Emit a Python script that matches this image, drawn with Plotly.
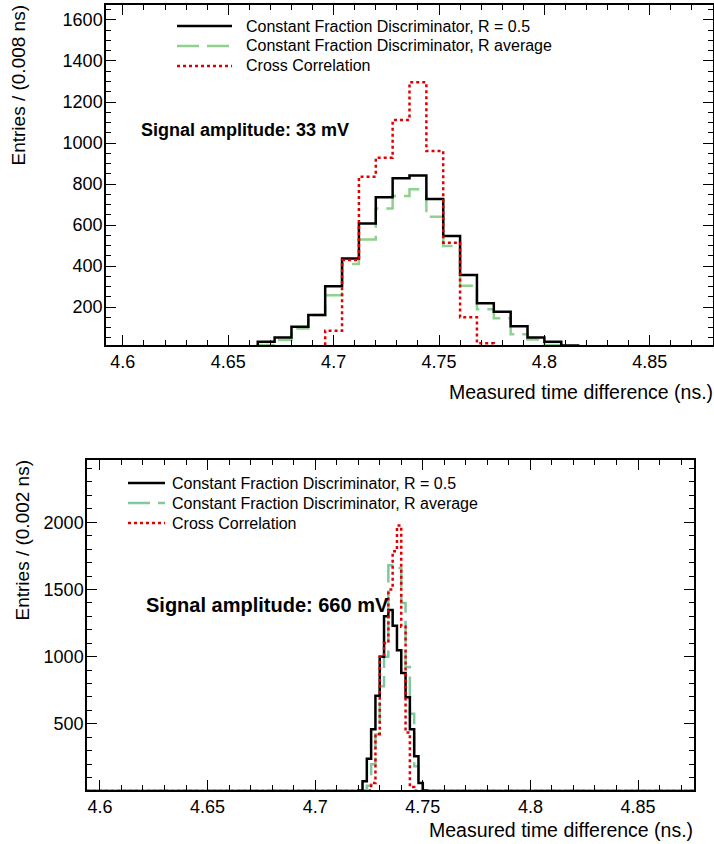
import plotly.graph_objects as go

W, H = 714, 844

# ---------------- top panel data (33 mV), bins of 0.008 ns ----------------
top_start = 4.592
top_width = 0.008
top_nbins = 36
top_first_bin = 7  # index of first listed bin
top_cfd_half = [2, 6, 31, 52, 104, 161, 302, 437, 608, 735, 828, 841, 727, 546,
                356, 218, 177, 107, 52, 31, 12, 5, 2]
top_cfd_avg = [0, 3, 15, 39, 96, 161, 258, 410, 530, 681, 741, 774, 640, 498,
               304, 189, 145, 67, 42, 15, 5, 2, 0]
top_xcorr = [0, 0, 0, 0, 2, 3, 85, 429, 836, 928, 1112, 1296, 961, 514,
             150, 23, 3, 1, 0, 0, 0, 0, 0]

# ---------------- bottom panel data (660 mV), bins of 0.002 ns ----------------
bot_start = 4.594
bot_width = 0.002
bot_nbins = 141
bot_first_bin = 63  # bin starting at 4.720
bot_cfd_half = [5, 73, 240, 460, 710, 1000, 1300, 1348, 1230, 1048, 878, 698,
                460, 260, 60, 5]
bot_cfd_avg = [0, 5, 40, 200, 420, 780, 1000, 1680, 1680, 1660, 1400, 923,
               575, 185, 50, 5]
bot_xcorr = [0, 0, 5, 60, 425, 1000, 1100, 1500, 1785, 1975, 1223, 435,
             30, 3, 0, 0]

names = ["Constant Fraction Discriminator, R = 0.5",
         "Constant Fraction Discriminator, R average",
         "Cross Correlation"]


def step_xy(start, width, nbins, first, vals):
    full = [0] * nbins
    full[first:first + len(vals)] = vals
    edges = [start + i * width for i in range(nbins + 1)]
    return edges, full + [full[-1]]


BLACK = "#000000"
GREEN_TOP = "#8fd18f"
GREEN_BOT = "#80c8a0"
RED = "#e00000"

fig = go.Figure()

panels = [
    ("x", "y", top_start, top_width, top_nbins, top_first_bin,
     [top_cfd_half, top_cfd_avg, top_xcorr], GREEN_TOP),
    ("x2", "y2", bot_start, bot_width, bot_nbins, bot_first_bin,
     [bot_cfd_half, bot_cfd_avg, bot_xcorr], GREEN_BOT),
]


def style(i, green):
    return [
        dict(color=BLACK, width=2.5, dash="solid"),
        dict(color=green, width=2.5, dash="22px,8px"),
        dict(color=RED, width=2.5, dash="3px,3px"),
    ][i]


draw_order = [1, 0, 2]
for xa, ya, st, wd, nb, fb, series, green in panels:
    for i in draw_order:
        xs, ys = step_xy(st, wd, nb, fb, series[i])
        fig.add_trace(go.Scatter(
            x=xs, y=ys, mode="lines", line_shape="hv", line=style(i, green),
            name=names[i], xaxis=xa, yaxis=ya, showlegend=False,
            hoverinfo="skip"))

FONT = "Liberation Sans, Arial, Helvetica, sans-serif"


def px_x(p):
    return p / W


def px_y(p):
    return 1 - p / H


axis_common = dict(
    showgrid=False, zeroline=False, showline=True, linecolor="black",
    linewidth=1.5, mirror="ticks", ticks="inside", ticklen=10,
    tickwidth=1.2, tickcolor="black",
    tickfont=dict(family=FONT, size=18, color="black"),
)

fig.update_layout(
    width=W, height=H, margin=dict(l=0, r=0, t=0, b=0),
    paper_bgcolor="white", plot_bgcolor="white",
    font=dict(family=FONT, size=16, color="black"),
    xaxis=dict(axis_common, domain=[px_x(106), px_x(713)], anchor="y",
               range=[4.592, 4.88], tick0=4.6, dtick=0.05,
               minor=dict(dtick=0.01, ticks="inside", ticklen=5,
                          tickcolor="black", tickwidth=1)),
    yaxis=dict(axis_common, domain=[px_y(345), px_y(5)], anchor="x",
               range=[15, 1673], tick0=0, dtick=200, ticklabelstandoff=-2,
               minor=dict(dtick=50, ticks="inside", ticklen=5,
                          tickcolor="black", tickwidth=1)),
    xaxis2=dict(axis_common, domain=[px_x(87), px_x(694)], anchor="y2",
                range=[4.594, 4.876], tick0=4.6, dtick=0.05,
                minor=dict(dtick=0.01, ticks="inside", ticklen=5,
                           tickcolor="black", tickwidth=1)),
    yaxis2=dict(axis_common, domain=[px_y(790), px_y(460)], anchor="x2",
                range=[8, 2463], tick0=0, dtick=500, ticklabelstandoff=-2,
                minor=dict(dtick=100, ticks="inside", ticklen=5,
                           tickcolor="black", tickwidth=1)),
    showlegend=False,
)

# legend keys (paper-pixel positions) and labels
legend_specs = [
    # (line x0, line x1, text x, row ys, green colour)
    (177, 232, 245, [26, 46, 66], GREEN_TOP),
    (128, 165, 171, [483, 503, 523], GREEN_BOT),
]
for lx0, lx1, tx, rows, green in legend_specs:
    for i, ry in enumerate(rows):
        fig.add_shape(type="line", xref="paper", yref="paper",
                      x0=px_x(lx0), x1=px_x(lx1), y0=px_y(ry), y1=px_y(ry),
                      line=style(i, green))
        fig.add_annotation(xref="paper", yref="paper", showarrow=False,
                           borderpad=0, text=names[i], x=px_x(tx),
                           y=px_y(ry), xanchor="left", yanchor="middle",
                           font=dict(size=16, family=FONT))

ann = [
    dict(text="Signal amplitude: 33 mV", x=px_x(140), y=px_y(130),
         xanchor="left", yanchor="middle", font=dict(size=18, family=FONT),
         bold=True),
    dict(text="Signal amplitude: 660 mV", x=px_x(145), y=px_y(605),
         xanchor="left", yanchor="middle", font=dict(size=20, family=FONT),
         bold=True),
    dict(text="Measured time difference (ns.)", x=px_x(714), y=px_y(392),
         xanchor="right", yanchor="middle", font=dict(size=19.5, family=FONT)),
    dict(text="Measured time difference (ns.)", x=px_x(694), y=px_y(830),
         xanchor="right", yanchor="middle", font=dict(size=19.5, family=FONT)),
    dict(text="Entries / (0.008 ns)", x=px_x(18), y=px_y(4),
         xanchor="center", yanchor="top", textangle=-90,
         font=dict(size=19, family=FONT)),
    dict(text="Entries / (0.002 ns)", x=px_x(22), y=px_y(459),
         xanchor="center", yanchor="top", textangle=-90,
         font=dict(size=19, family=FONT)),
]
for a in ann:
    bold = a.pop("bold", False)
    if bold:
        a["text"] = "<b>" + a["text"] + "</b>"
    fig.add_annotation(xref="paper", yref="paper", showarrow=False,
                       borderpad=0, **a)

post = """
document.documentElement.style.margin = '0px';
document.body.style.margin = '0px';
document.documentElement.style.overflow = 'hidden';
document.body.style.overflow = 'hidden';
var gd = document.getElementsByClassName('plotly-graph-div')[0];
gd.style.position = 'fixed';
gd.style.left = '0px';
gd.style.top = '0px';
"""

fig.write_html("out.html", config={"displayModeBar": False}, post_script=post)
